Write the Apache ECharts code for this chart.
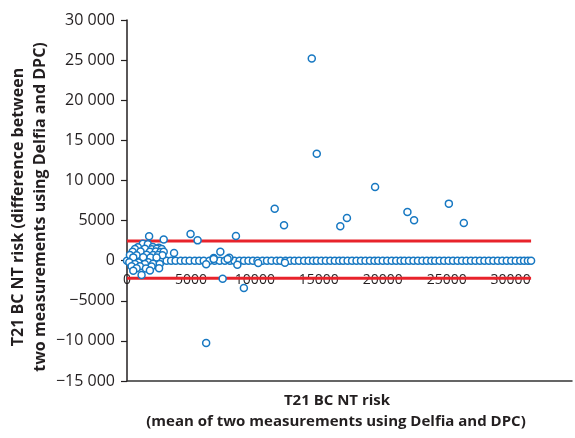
<!DOCTYPE html>
<html>
<head>
<meta charset="utf-8">
<script src="https://cdn.jsdelivr.net/npm/echarts@6/dist/echarts.min.js"></script>
<style>html,body{margin:0;padding:0;background:#fff;}#c{width:575px;height:438px;}</style>
</head>
<body>
<div id="c"></div>
<script>
// ---- data ----
const zeroX = [0, 300, 650, 1000, 1350, 1700, 2050, 2400, 2750, 3100, 3450, 3800, 4200, 4550, 4900, 5300, 5650, 6000, 6450, 6850,
  7250, 7650, 8050, 8400, 8800, 9150, 9500, 9850, 10200, 10600, 10950, 11300, 11700, 12000, 12400, 12750, 13100, 13450, 13850, 14200,
  14550, 14850, 15200, 15550, 15900, 16250, 16600, 16900, 17250, 17600, 17950, 18300, 18650, 19000, 19350, 19650, 20000, 20350, 20700, 21050,
  21400, 21700, 22050, 22400, 22750, 23100, 23450, 23800, 24100, 24450, 24800, 25150, 25500, 25850, 26200, 26550, 26900, 27250, 27600, 27950,
  28300, 28650, 29000, 29350, 29700, 30050, 30400, 30750, 31050, 31350, 31600];
const diffX = [14450, 14840, 19400, 11550, 12280, 16680, 17200, 21930, 22450, 25170, 26340,
  4970, 5520, 8520, 7300, 8000, 6780, 6190, 7480, 9140, 6190, 8630, 10260, 12350, 3680, 2870, 1730,
  1240, 1630, 850, 2020, 2490, 620, 1400, 1940, 2330, 2720,
  440, 1060, 1790, 2250, 2620, 2870, 230, 750, 1530, 2040, 2430, 2770,
  490, 1270, 1840, 2310, 180, 880, 1660, 620, 1400, 2040, 2560,
  360, 1010, 1920, 750, 1480, 2510, 490, 1790, 1140, 6780, 7870];
const diffY = [25200, 13340, 9190, 6480, 4400, 4280, 5320, 6070, 5030, 7110, 4700,
  3330, 2530, 3080, 1120, 370, 330, -460, -2240, -3400, -10260, -500, -290, -250, 960, 2640, 3030,
  2100, 2050, 1660, 1700, 1620, 1460, 1480, 1430, 1500, 1460,
  1120, 1150, 1100, 1130, 1080, 1120, 710, 690, 730, 700, 720, 680,
  410, 420, 390, 400, -210, -230, -200, -410, -420, -390, -400,
  -710, -690, -720, -960, -980, -950, -1250, -1230, -1780, 210, 210];
const limits = [2450, -2200];
const limitExtent = [0, 31600];
const yTicks = [-15000, 30000, 5000];
const xTicks = [0, 34800, 5000];

const points = zeroX.map(x => [x, 0]).concat(diffX.map((x, i) => [x, diffY[i]]));

const FONT = '"Open Sans", "DejaVu Sans", sans-serif';
const TXT = '#231f20';
function yFmt(v) {
  const a = Math.abs(v);
  const s = a >= 10000 ? String(a).replace(/\B(?=(\d{3})+(?!\d))/g, ' ') : String(a);
  return (v < 0 ? '\u2212' : '') + s;
}

const GRID_TOP = 20, GRID_BOTTOM = 57, H = 438;
const gridH = H - GRID_TOP - GRID_BOTTOM;
// lift the labelled x axis from the grid bottom up to y = 0
const zeroOffset = -gridH * (0 - yTicks[0]) / (yTicks[1] - yTicks[0]);

const chart = echarts.init(document.getElementById('c'), null, {renderer: 'canvas'});
chart.setOption({
  animation: false,
  backgroundColor: '#fff',
  grid: {left: 127, top: GRID_TOP, right: 0, bottom: GRID_BOTTOM, containLabel: false},
  xAxis: [{
    type: 'value', min: xTicks[0], max: xTicks[1], interval: xTicks[2], position: 'bottom',
    offset: zeroOffset,
    axisLine: {show: false, onZero: false},
    axisTick: {show: false},
    splitLine: {show: false},
    axisLabel: {
      fontFamily: FONT, fontSize: 14, color: TXT, margin: 12,
      formatter: v => (v % 5000 === 0 ? String(v) : '')
    }
  }, {
    type: 'value', min: xTicks[0], max: xTicks[1], position: 'bottom', offset: 0,
    axisLine: {show: true, onZero: false, lineStyle: {color: '#333', width: 1.5}},
    axisTick: {show: false}, axisLabel: {show: false}, splitLine: {show: false}
  }],
  yAxis: {
    type: 'value', min: yTicks[0], max: yTicks[1], interval: yTicks[2],
    axisLine: {show: true, onZero: false, lineStyle: {color: '#231f20', width: 1.5}},
    axisTick: {show: true, inside: false, length: 6, lineStyle: {color: '#231f20', width: 1.2}},
    splitLine: {show: false},
    axisLabel: {fontFamily: FONT, fontSize: 16, color: TXT, margin: 12, formatter: yFmt}
  },
  series: [
    {
      type: 'line', xAxisIndex: 0, z: 1, symbol: 'none', silent: true,
      data: [[limitExtent[0], limits[0]], [limitExtent[1], limits[0]]],
      lineStyle: {color: '#e8232b', width: 3}
    },
    {
      type: 'line', xAxisIndex: 0, z: 1, symbol: 'none', silent: true,
      data: [[limitExtent[0], limits[1]], [limitExtent[1], limits[1]]],
      lineStyle: {color: '#e8232b', width: 3}
    },
    {
      type: 'scatter', xAxisIndex: 0, z: 3, symbol: 'circle', symbolSize: 7,
      data: points,
      itemStyle: {color: '#ffffff', borderColor: '#1778c2', borderWidth: 1.5, opacity: 1}
    }
  ],
  graphic: [
    {type: 'text', x: 18, y: 207, rotation: Math.PI / 2,
      style: {text: 'T21 BC NT risk (difference between', font: 'bold 16px ' + FONT, fill: TXT, align: 'center', verticalAlign: 'middle'}},
    {type: 'text', x: 40, y: 207, rotation: Math.PI / 2,
      style: {text: 'two measurements using Delfia and DPC)', font: 'bold 16px ' + FONT, fill: TXT, align: 'center', verticalAlign: 'middle'}},
    {type: 'text', x: 337, y: 401,
      style: {text: 'T21 BC NT risk', font: 'bold 15px ' + FONT, fill: TXT, align: 'center', verticalAlign: 'middle'}},
    {type: 'text', x: 336, y: 422,
      style: {text: '(mean of two measurements using Delfia and DPC)', font: 'bold 15px ' + FONT, fill: TXT, align: 'center', verticalAlign: 'middle'}}
  ]
});
</script>
</body>
</html>
